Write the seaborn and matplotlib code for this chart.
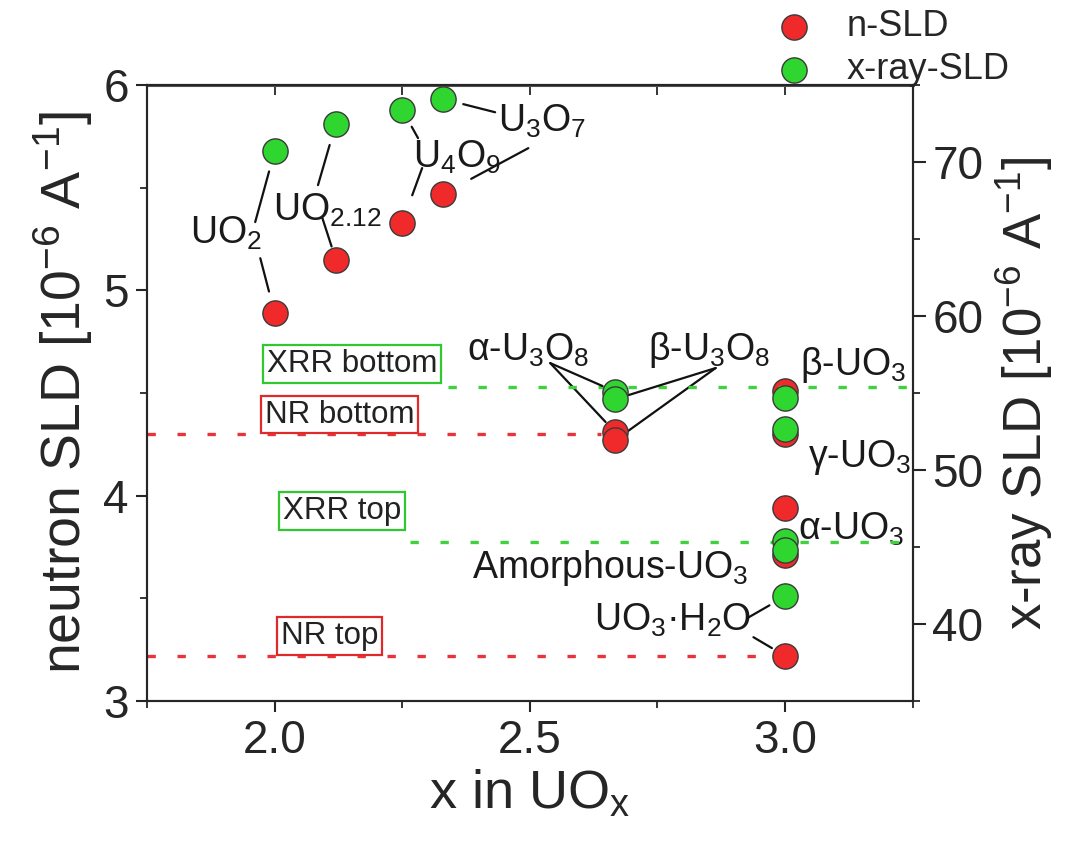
import numpy as np
import pandas as pd
import matplotlib
matplotlib.use('Agg')
import matplotlib.pyplot as plt
import seaborn as sns
from matplotlib.ticker import MultipleLocator, FixedLocator

# ---------------- data ----------------
compounds = ['UO$_2$', 'UO$_{2.12}$', 'U$_4$O$_9$', 'U$_3$O$_7$',
             'α-U$_3$O$_8$', 'β-U$_3$O$_8$', 'β-UO$_3$', 'γ-UO$_3$',
             'α-UO$_3$', 'Amorphous-UO$_3$', 'UO$_3$·H$_2$O']
x_values = [2.0, 2.12, 2.25, 2.33, 2.667, 2.667, 3.0, 3.0, 3.0, 3.0, 3.0]
n_sld = [4.89, 5.15, 5.33, 5.47, 4.31, 4.27, 4.51, 4.30, 3.94, 3.71, 3.22]
xray_sld = [70.7, 72.5, 73.4, 74.1, 55.1, 54.6, 54.7, 52.7, 45.4, 44.8, 41.8]

ref_labels = ['NR bottom', 'NR top', 'XRR bottom', 'XRR top']
nr_levels = [4.30, 3.22]        # neutron SLD reference lines
xrr_levels = [55.4, 45.3]       # x-ray SLD reference lines

x_ticks = [2.0, 2.5, 3.0]
left_ticks = [3, 4, 5, 6]
right_ticks = [40, 50, 60, 70]

df = pd.DataFrame({'x': x_values, 'n': n_sld, 'xr': xray_sld, 'name': compounds})

# ---------------- style ----------------
sns.set_style('ticks')
plt.rcParams['font.family'] = ['Liberation Sans', 'DejaVu Sans']
plt.rcParams['mathtext.fontset'] = 'custom'
plt.rcParams['mathtext.rm'] = 'Liberation Sans'
plt.rcParams['mathtext.it'] = 'Liberation Sans:italic'
plt.rcParams['axes.linewidth'] = 1.5

RED = '#f02a2a'
GREEN = '#2fd62f'
EDGE = '#3a3a3a'

fig = plt.figure(figsize=(10.65, 8.43), dpi=100)
ax = fig.add_axes([0.138, 0.1684, 0.719, 0.7306])
ax2 = ax.twinx()

sns.scatterplot(data=df, x='x', y='n', ax=ax, color=RED, s=330,
                edgecolor=EDGE, linewidth=1.0, zorder=5, label='n-SLD', legend=False)
sns.scatterplot(data=df, x='x', y='xr', ax=ax2, color=GREEN, s=330,
                edgecolor=EDGE, linewidth=1.0, zorder=5, label='x-ray-SLD', legend=False)

ax.set_xlim(1.75, 3.25)
ax.set_ylim(3, 6)
ax2.set_ylim(35, 75)

# reference lines
ls = (0, (2.5, 6.5))
ax.hlines(nr_levels[0], 1.75, 2.64, colors='#e8333a', linestyles=[ls], linewidth=2.4, zorder=2)
ax.hlines(nr_levels[1], 1.75, 2.97, colors='#e8333a', linestyles=[ls], linewidth=2.4, zorder=2)
ax2.hlines(xrr_levels[0], 2.34, 3.25, colors='#3fd23f', linestyles=[ls], linewidth=2.4, zorder=2)
ax2.hlines(xrr_levels[1], 2.265, 3.25, colors='#3fd23f', linestyles=[ls], linewidth=2.4, zorder=2)

box_fs = 22.5
def box(x, y, s, ec):
    ax.text(x, y, s, ha='center', va='center', fontsize=box_fs, color='#222222', zorder=6,
            bbox=dict(boxstyle='square,pad=0.12', fc='white', ec=ec, lw=1.6))

box(2.152, 4.641, ref_labels[2], '#2fc82f')
box(2.128, 4.395, ref_labels[0], '#e02a2a')
box(2.132, 3.925, ref_labels[3], '#2fc82f')
box(2.107, 3.316, ref_labels[1], '#e02a2a')

# compound labels
lab_fs = 27
label_pos = [(1.834, 5.23), (1.997, 5.342), (2.272, 5.60), (2.438, 5.771),
             (2.377, 4.66), (2.732, 4.66), (3.030, 4.587), (3.044, 4.139),
             (3.025, 3.784), (2.387, 3.599), (2.625, 3.345)]
for name, (tx, ty) in zip(compounds, label_pos):
    ax.text(tx, ty, name, ha='left', va='baseline', fontsize=lab_fs, color='#1a1a1a', zorder=7)

# leader lines: (index, series, text-end x, text-end y, shrink)
leaders = [(0, 'x', 1.962, 5.333, 15), (0, 'n', 1.972, 5.157, 16),
           (1, 'x', 2.085, 5.513, 16), (1, 'n', 2.093, 5.357, 10),
           (2, 'x', 2.281, 5.742, 14), (2, 'n', 2.289, 5.596, 21),
           (3, 'x', 2.432, 5.868, 15), (3, 'n', 2.497, 5.693, 23),
           (4, 'x', 2.540, 4.646, 10), (4, 'n', 2.540, 4.646, 10),
           (5, 'x', 2.864, 4.622, 10), (5, 'n', 2.864, 4.622, 10),
           (10, 'x', 2.926, 3.404, 13), (10, 'n', 2.938, 3.311, 11)]
for i, ser, tx, ty, sh in leaders:
    if ser == 'n':
        ax.annotate('', xy=(x_values[i], n_sld[i]), xycoords='data',
                    xytext=(tx, ty), textcoords='data',
                    arrowprops=dict(arrowstyle='-', color='#111111', lw=1.6, shrinkA=0, shrinkB=sh),
                    zorder=4)
    else:
        ax2.annotate('', xy=(x_values[i], xray_sld[i]), xycoords='data',
                     xytext=(tx, ty), textcoords=ax.transData,
                     arrowprops=dict(arrowstyle='-', color='#111111', lw=1.6, shrinkA=0, shrinkB=sh),
                     zorder=4)

# axes & ticks
ax.xaxis.set_major_locator(FixedLocator(x_ticks))
ax.xaxis.set_minor_locator(MultipleLocator(0.25))
ax.set_xticklabels(['%.1f' % v for v in x_ticks])
ax.yaxis.set_major_locator(FixedLocator(left_ticks))
ax.yaxis.set_minor_locator(MultipleLocator(0.5))
ax2.yaxis.set_major_locator(FixedLocator(right_ticks))
ax2.yaxis.set_minor_locator(MultipleLocator(5))

ax.tick_params(axis='both', which='major', direction='out', length=8, width=1.5, labelsize=33, pad=5)
ax.tick_params(axis='both', which='minor', direction='out', length=5, width=1.3)
ax2.tick_params(axis='y', which='major', direction='out', length=9, width=1.5, labelsize=33, pad=5)
ax2.tick_params(axis='y', which='minor', direction='out', length=5, width=1.3)

top = ax.secondary_xaxis('top')
top.xaxis.set_major_locator(FixedLocator(x_ticks))
top.xaxis.set_minor_locator(MultipleLocator(0.25))
top.tick_params(axis='x', which='both', direction='in', length=7, width=1.3, labeltop=False)
top.spines['top'].set_linewidth(2.2)
top.spines['top'].set_color('#555555')

ax.set_xlabel('x in UO$_\\mathrm{x}$', fontsize=39, labelpad=4)
ax.set_ylabel('neutron SLD [10$^{\\mathrm{-6}}$ A$^{\\mathrm{-1}}$]', fontsize=40, labelpad=6)
ax2.set_ylabel('x-ray SLD [10$^{\\mathrm{-6}}$ A$^{\\mathrm{-1}}$]', fontsize=38, labelpad=8)

h1, l1 = ax.get_legend_handles_labels()
h2, l2 = ax2.get_legend_handles_labels()
fig.legend(h1 + h2, l1 + l2, loc='upper left', bbox_to_anchor=(0.698, 1.006),
           frameon=False, fontsize=26, handletextpad=0.45, labelspacing=0.22,
           borderaxespad=0)

for a in (ax, ax2):
    a.set_facecolor('none')
fig.savefig('out.png', dpi=100, facecolor='white')
